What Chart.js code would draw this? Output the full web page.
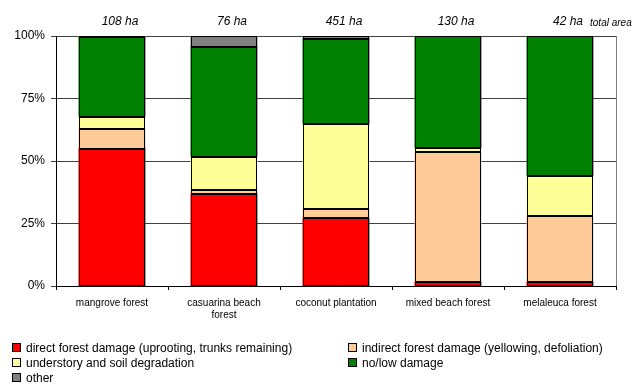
<!DOCTYPE html>
<html>
<head>
<meta charset="utf-8">
<script src="https://cdn.jsdelivr.net/npm/chart.js@4"></script>
<style>
  html, body { margin: 0; padding: 0; background: #fff; }
  #wrap { position: relative; width: 637px; height: 386px; }
  #c { position: absolute; left: 0; top: 0; }
  .lg { position: absolute; font: 12px "Liberation Sans", Arial, sans-serif; color: #000; white-space: nowrap; line-height: 14px; }
  .lg .sw { display: inline-block; width: 7px; height: 7px; border: 1px solid #000; vertical-align: 0px; margin-right: 5px; }
</style>
</head>
<body>
<div id="wrap">
  <canvas id="c" width="637" height="386"></canvas>
</div>
<script>
const categories = ["mangrove forest", ["casuarina beach", "forest"], "coconut plantation", "mixed beach forest", "melaleuca forest"];
const totalAreas = ["108 ha", "76 ha", "451 ha", "130 ha", "42 ha"];
const totalAreaNote = "total area";
const yTicks = [0, 25, 50, 75, 100];

const seriesNames = [
  "direct forest damage (uprooting, trunks remaining)",
  "indirect forest damage (yellowing, defoliation)",
  "understory and soil degradation",
  "no/low damage",
  "other"
];
const directDamage   = [55.0, 36.7, 27.1, 1.5, 1.5];
const indirectDamage = [7.7, 1.6, 3.7, 52.2, 26.4];
const understory     = [5.0, 13.4, 33.9, 1.6, 16.0];
const noLowDamage    = [31.8, 43.8, 34.1, 44.7, 56.1];
const other          = [0.5, 4.5, 1.2, 0.0, 0.0];

const seriesColors = ["#FF0000", "#FFCC99", "#FFFF99", "#008000", "#808080"];
const seriesData = [directDamage, indirectDamage, understory, noLowDamage, other];

const datasets = seriesData.map((d, i) => ({
  label: seriesNames[i],
  data: d,
  backgroundColor: seriesColors[i],
  borderWidth: 0,
  inflateAmount: 0.5,
  categoryPercentage: 1.0,
  barPercentage: 0.59
}));

const font = '"Liberation Sans", Arial, sans-serif';

const extras = {
  id: "extras",
  beforeDraw(chart) {
    const a = chart.chartArea, ctx = chart.ctx;
    ctx.save();
    ctx.strokeStyle = "#808080";
    ctx.lineWidth = 1;
    ctx.beginPath();
    ctx.moveTo(Math.round(a.right) + 0.5, a.top);
    ctx.lineTo(Math.round(a.right) + 0.5, a.bottom);
    ctx.stroke();
    ctx.restore();
  },
  afterDatasetsDraw(chart) {
    const ctx = chart.ctx;
    ctx.save();
    ctx.strokeStyle = "#000";
    ctx.lineWidth = 1;
    chart.data.datasets.forEach((ds, di) => {
      chart.getDatasetMeta(di).data.forEach((bar, i) => {
        if (!ds.data[i]) return;
        const p = bar.getProps(["x", "y", "base", "width"], true);
        const l = Math.round(p.x - p.width / 2) + 0.5;
        const r = Math.round(p.x + p.width / 2) - 0.5;
        const t = Math.round(Math.min(p.y, p.base)) + 0.5;
        const b = Math.round(Math.max(p.y, p.base)) - 0.5;
        ctx.strokeRect(l, t, r - l, Math.max(b - t, 0));
      });
    });
    ctx.restore();
  },
  afterDraw(chart) {
    const ctx = chart.ctx, xs = chart.scales.x;
    const shift = 8;
    ctx.save();
    ctx.fillStyle = "#000";
    ctx.textAlign = "center";
    ctx.textBaseline = "middle";
    ctx.font = "italic 12px " + font;
    totalAreas.forEach((t, i) => {
      ctx.fillText(t, xs.getPixelForValue(i) + shift, 22);
    });
    const last = totalAreas.length - 1;
    const w = ctx.measureText(totalAreas[last]).width;
    ctx.font = "italic 10px " + font;
    ctx.textAlign = "left";
    ctx.fillText(totalAreaNote, xs.getPixelForValue(last) + shift + w / 2 + 7, 23);
    ctx.restore();
  }
};

new Chart(document.getElementById("c"), {
  type: "bar",
  data: { labels: categories, datasets },
  plugins: [extras],
  options: {
    responsive: false,
    animation: false,
    layout: { padding: { left: 0, right: 21, top: 36, bottom: 0 } },
    plugins: { legend: { display: false }, tooltip: { enabled: false } },
    scales: {
      x: {
        stacked: true,
        afterFit(s) { s.height = 100; },
        grid: { offset: true, drawOnChartArea: false, drawTicks: true, tickLength: 4, color: "#000", tickWidth: 1 },
        border: { color: "#000", width: 1 },
        ticks: { color: "#000", font: { family: font, size: 10 }, padding: 7, maxRotation: 0, autoSkip: false }
      },
      y: {
        stacked: true,
        min: 0, max: 100,
        afterFit(s) { s.width = 56; },
        afterBuildTicks(s) { s.ticks = yTicks.map(v => ({ value: v })); },
        grid: { color: "#404040", lineWidth: 1, tickLength: 5, drawTicks: true },
        border: { color: "#000", width: 1 },
        ticks: { color: "#000", font: { family: font, size: 12 }, padding: 6, callback: v => v + "%" }
      }
    }
  }
});

// HTML legend built from the series arrays
const wrap = document.getElementById("wrap");
const legendPos = [[12, 341], [348, 341], [12, 356], [348, 356], [12, 371]];
seriesNames.forEach((n, i) => {
  const d = document.createElement("div");
  d.className = "lg";
  d.style.left = legendPos[i][0] + "px";
  d.style.top = legendPos[i][1] + "px";
  const sw = document.createElement("span");
  sw.className = "sw";
  sw.style.background = seriesColors[i];
  d.appendChild(sw);
  d.appendChild(document.createTextNode(n));
  wrap.appendChild(d);
});
</script>
</body>
</html>
